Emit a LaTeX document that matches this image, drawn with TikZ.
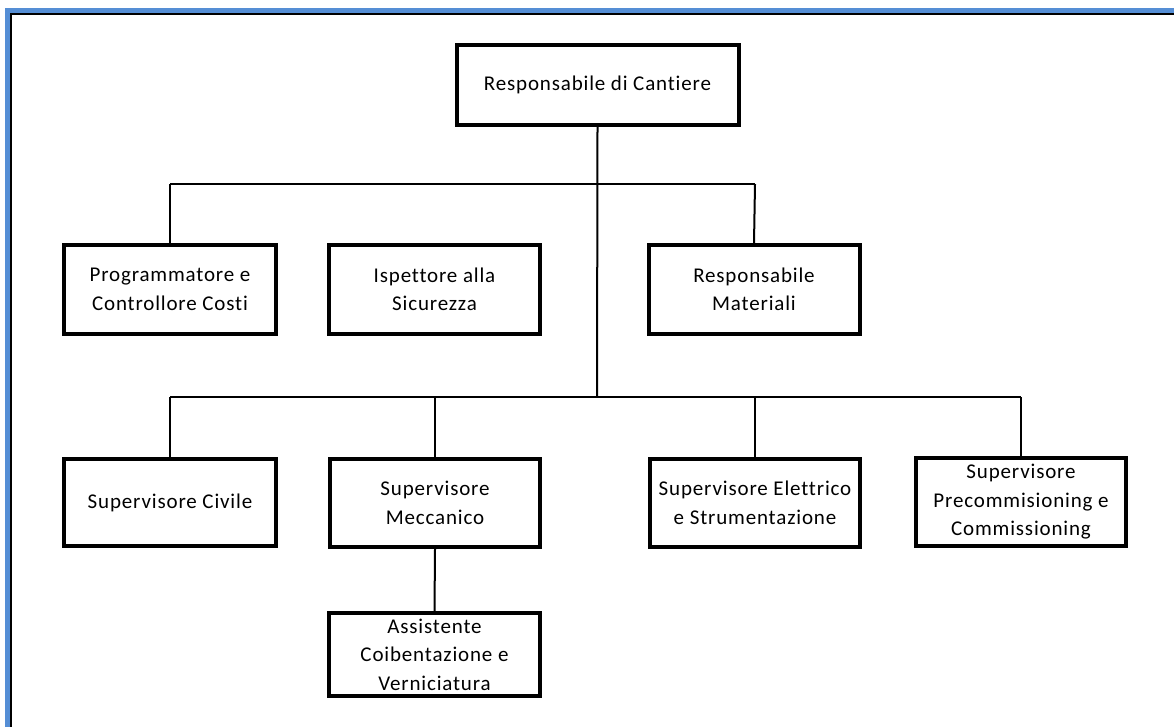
\documentclass[tikz,border=0pt]{standalone}
\usepackage{fontspec}
\setmainfont{Carlito}[LetterSpace=4, Ligatures={NoCommon,NoRare,NoContextual}]
\definecolor{frameblue}{RGB}{85,142,213}
\begin{document}
\begin{tikzpicture}[x=1pt,y=-1pt,
  box/.style={draw=black, line width=4pt, fill=white, inner sep=0pt, align=center,
    font=\fontsize{21}{28.5}\selectfont},
  link/.style={draw=black, line width=2pt}]
\useasboundingbox (0,0) rectangle (1174,727);
\clip (0,0) rectangle (1174,727);
% frame
\fill[frameblue] (5,8) rectangle (1190,740);
\fill[black] (10,13) rectangle (1190,740);
\fill[white] (12,15) rectangle (1190,740);
% connector points
\coordinate (trunkend) at (597,397);
\coordinate (busL2) at (170,184);
\coordinate (busR2) at (755,184);
\coordinate (busL3) at (170,397);
\coordinate (busR3) at (1021,397);
% nodes
\node[box, minimum width=282pt, minimum height=80pt] (top) at (597.5,85) {Responsabile di Cantiere};
\node[box, minimum width=212pt, minimum height=89pt] (prog) at (170,289.5) {Programmatore e\\Controllore Costi};
\node[box, minimum width=211pt, minimum height=89pt] (isp) at (434.5,289.5) {Ispettore alla\\Sicurezza};
\node[box, minimum width=211pt, minimum height=89pt] (mat) at (754,289.5) {Responsabile\\Materiali};
\node[box, minimum width=212pt, minimum height=87pt] (civ) at (170,502.5) {Supervisore Civile};
\node[box, minimum width=210pt, minimum height=88pt] (mec) at (435,503) {Supervisore\\Meccanico};
\node[box, minimum width=210pt, minimum height=88pt] (ele) at (755,503) {Supervisore Elettrico\\e Strumentazione};
\node[box, minimum width=210pt, minimum height=88pt] (pre) at (1021,502) {Supervisore\\Precommisioning e\\Commissioning};
\node[box, minimum width=211pt, minimum height=83pt] (ass) at (434.5,654.5) {Assistente\\Coibentazione e\\Verniciatura};
% lines
\draw[link] (top.south) -- (trunkend);
\draw[link] (busL2) -- (busR2);
\draw[link] (busL2) -- (prog.north);
\draw[link] (busR2) -- (mat.north);
\draw[link] (busL3) -- (busR3);
\draw[link] (busL3) -- (civ.north);
\draw[link] (mec.north |- busL3) -- (mec.north);
\draw[link] (ele.north |- busL3) -- (ele.north);
\draw[link] (busR3) -- (pre.north);
\draw[link] (mec.south) -- (ass.north);
\end{tikzpicture}
\end{document}
